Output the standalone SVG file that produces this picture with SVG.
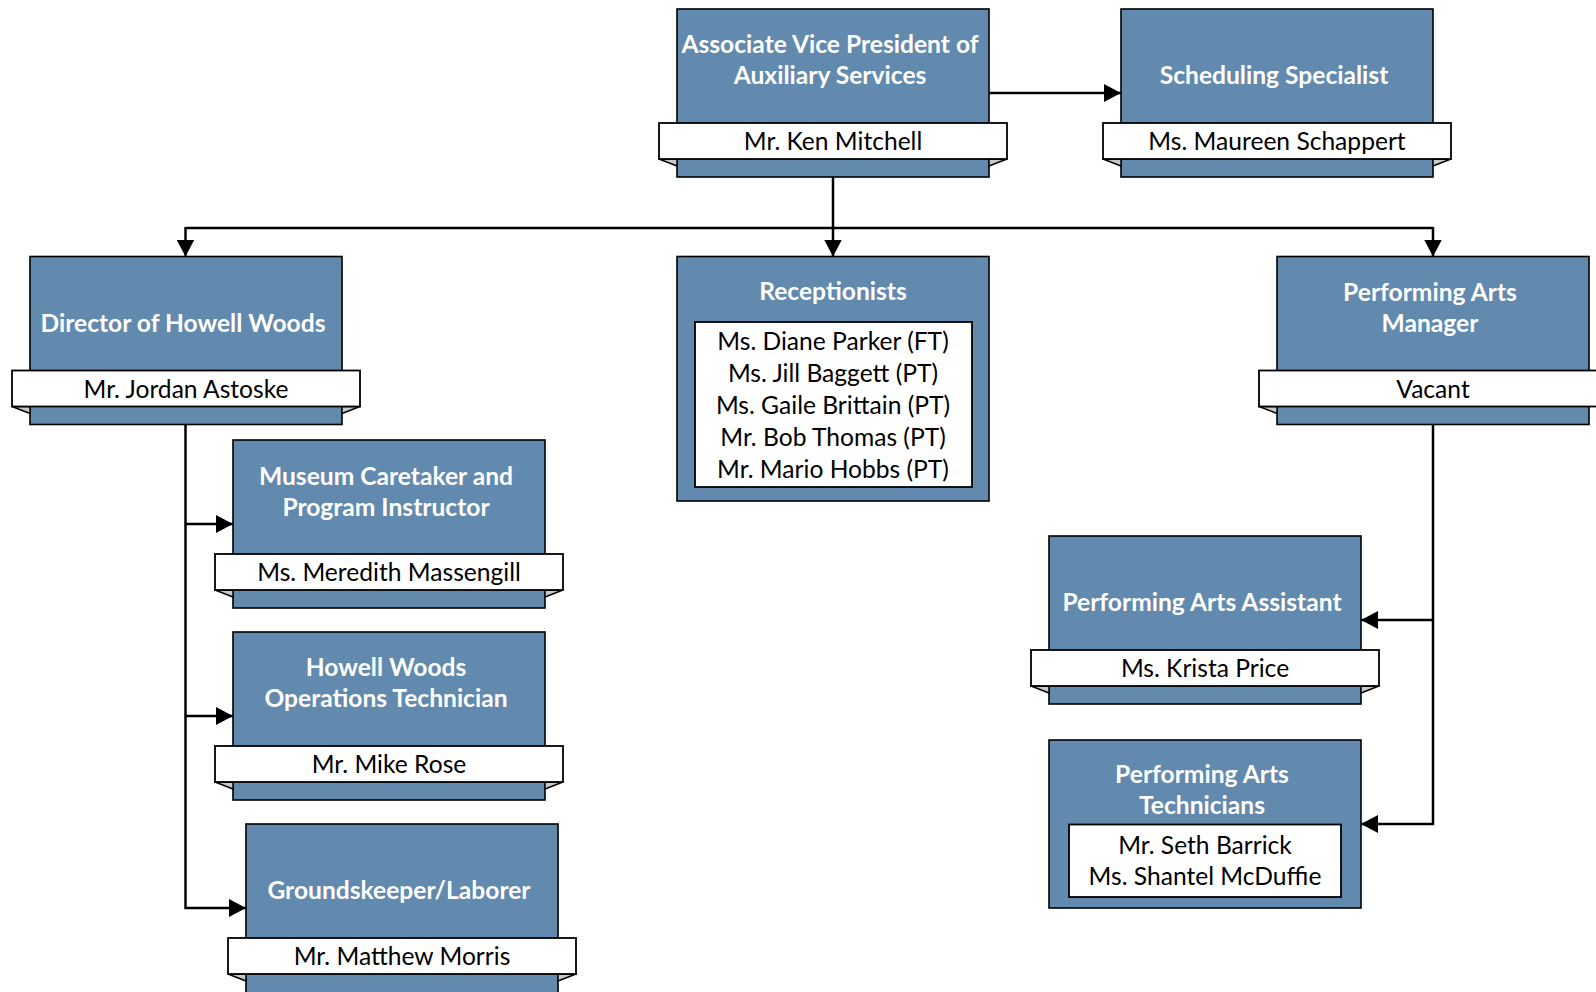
<svg xmlns="http://www.w3.org/2000/svg" width="1596" height="992" viewBox="0 0 1596 992">
<style>
.box{fill:#6289ae;stroke:#000;stroke-width:1.6}
.band{fill:#fff;stroke:#000;stroke-width:1.8}
.fold{fill:#c8c8c8;stroke:#000;stroke-width:1.4;stroke-linejoin:round}
.inner{fill:#fff;stroke:#000;stroke-width:1.8}
.t{font-family:Lato,"Liberation Sans",sans-serif;font-weight:bold;font-size:24.6px;fill:#fff;text-anchor:middle}
.n{font-family:Lato,"Liberation Sans",sans-serif;font-size:24.6px;fill:#000;text-anchor:middle}
.c{fill:none;stroke:#000;stroke-width:2.5}
</style>
<defs>
<marker id="ah" markerUnits="userSpaceOnUse" markerWidth="18" markerHeight="18" refX="17" refY="9" orient="auto">
<path d="M0,0 L17,9 L0,18 z" fill="#000"/>
</marker>
</defs>

<g id="connectors">
<line class="c" x1="989" y1="93" x2="1121" y2="93" marker-end="url(#ah)"/>
<line class="c" x1="833" y1="176" x2="833" y2="256.5" marker-end="url(#ah)"/>
<line class="c" x1="185.5" y1="228" x2="1433" y2="228"/>
<line class="c" x1="185.5" y1="227" x2="185.5" y2="256.5" marker-end="url(#ah)"/>
<line class="c" x1="1433" y1="227" x2="1433" y2="256.5" marker-end="url(#ah)"/>
<polyline class="c" points="185.5,424.5 185.5,908 246,908" marker-end="url(#ah)"/>
<line class="c" x1="185.5" y1="524" x2="233" y2="524" marker-end="url(#ah)"/>
<line class="c" x1="185.5" y1="716" x2="233" y2="716" marker-end="url(#ah)"/>
<polyline class="c" points="1433,424.5 1433,824 1361,824" marker-end="url(#ah)"/>
<line class="c" x1="1433" y1="620" x2="1361" y2="620" marker-end="url(#ah)"/>
</g>

<g id="avp">
<rect class="box" x="677" y="9" width="312" height="168"/>
<polygon class="fold" points="659,159 677,159 677,166"/>
<polygon class="fold" points="1007,159 989,159 989,166"/>
<rect class="band" x="659" y="123" width="348" height="36"/>
<text class="t" x="830" y="52.5">Associate Vice President of</text>
<text class="t" x="830" y="84">Auxiliary Services</text>
<text class="n" x="833" y="150">Mr. Ken Mitchell</text>
</g>

<g id="scheduling">
<rect class="box" x="1121" y="9" width="312" height="168"/>
<polygon class="fold" points="1103,159 1121,159 1121,166"/>
<polygon class="fold" points="1451,159 1433,159 1433,166"/>
<rect class="band" x="1103" y="123" width="348" height="36"/>
<text class="t" x="1274" y="84">Scheduling Specialist</text>
<text class="n" x="1277" y="150">Ms. Maureen Schappert</text>
</g>

<g id="director">
<rect class="box" x="30" y="256.5" width="312" height="168"/>
<polygon class="fold" points="12,406.5 30,406.5 30,413.5"/>
<polygon class="fold" points="360,406.5 342,406.5 342,413.5"/>
<rect class="band" x="12" y="370.5" width="348" height="36"/>
<text class="t" x="183" y="331.5">Director of Howell Woods</text>
<text class="n" x="186" y="397.5">Mr. Jordan Astoske</text>
</g>

<g id="receptionists">
<rect class="box" x="677" y="256.5" width="312" height="244.5"/>
<rect class="inner" x="695" y="322" width="277" height="165"/>
<text class="t" x="833" y="299.5">Receptionists</text>
<text class="n" x="833" y="350">Ms. Diane Parker (FT)</text>
<text class="n" x="833" y="382.1">Ms. Jill Baggett (PT)</text>
<text class="n" x="833" y="414.2">Ms. Gaile Brittain (PT)</text>
<text class="n" x="833" y="446.3">Mr. Bob Thomas (PT)</text>
<text class="n" x="833" y="478.4">Mr. Mario Hobbs (PT)</text>
</g>

<g id="pa-manager">
<rect class="box" x="1277" y="256.5" width="312" height="168"/>
<polygon class="fold" points="1259,406.5 1277,406.5 1277,413.5"/>
<rect class="band" x="1259" y="370.5" width="348" height="36"/>
<text class="t" x="1430" y="300.5">Performing Arts</text>
<text class="t" x="1430" y="332">Manager</text>
<text class="n" x="1433" y="397.5">Vacant</text>
</g>

<g id="museum">
<rect class="box" x="233" y="440" width="312" height="168"/>
<polygon class="fold" points="215,590 233,590 233,597"/>
<polygon class="fold" points="563,590 545,590 545,597"/>
<rect class="band" x="215" y="554" width="348" height="36"/>
<text class="t" x="386" y="484.5">Museum Caretaker and</text>
<text class="t" x="386" y="516">Program Instructor</text>
<text class="n" x="389" y="581">Ms. Meredith Massengill</text>
</g>

<g id="operations">
<rect class="box" x="233" y="632" width="312" height="168"/>
<polygon class="fold" points="215,782 233,782 233,789"/>
<polygon class="fold" points="563,782 545,782 545,789"/>
<rect class="band" x="215" y="746" width="348" height="36"/>
<text class="t" x="386" y="675.5">Howell Woods</text>
<text class="t" x="386" y="707">Operations Technician</text>
<text class="n" x="389" y="773">Mr. Mike Rose</text>
</g>

<g id="groundskeeper">
<rect class="box" x="246" y="824" width="312" height="170"/>
<polygon class="fold" points="228,974 246,974 246,981"/>
<polygon class="fold" points="576,974 558,974 558,981"/>
<rect class="band" x="228" y="938" width="348" height="36"/>
<text class="t" x="399" y="899">Groundskeeper/Laborer</text>
<text class="n" x="402" y="965">Mr. Matthew Morris</text>
</g>

<g id="pa-assistant">
<rect class="box" x="1049" y="536" width="312" height="168"/>
<polygon class="fold" points="1031,686 1049,686 1049,693"/>
<polygon class="fold" points="1379,686 1361,686 1361,693"/>
<rect class="band" x="1031" y="650" width="348" height="36"/>
<text class="t" x="1202" y="611">Performing Arts Assistant</text>
<text class="n" x="1205" y="677">Ms. Krista Price</text>
</g>

<g id="pa-technicians">
<rect class="box" x="1049" y="740" width="312" height="168"/>
<rect class="inner" x="1069" y="824.5" width="272" height="72.5"/>
<text class="t" x="1202" y="782.5">Performing Arts</text>
<text class="t" x="1202" y="814">Technicians</text>
<text class="n" x="1205" y="853.5">Mr. Seth Barrick</text>
<text class="n" x="1205" y="885">Ms. Shantel McDuffie</text>
</g>
</svg>
